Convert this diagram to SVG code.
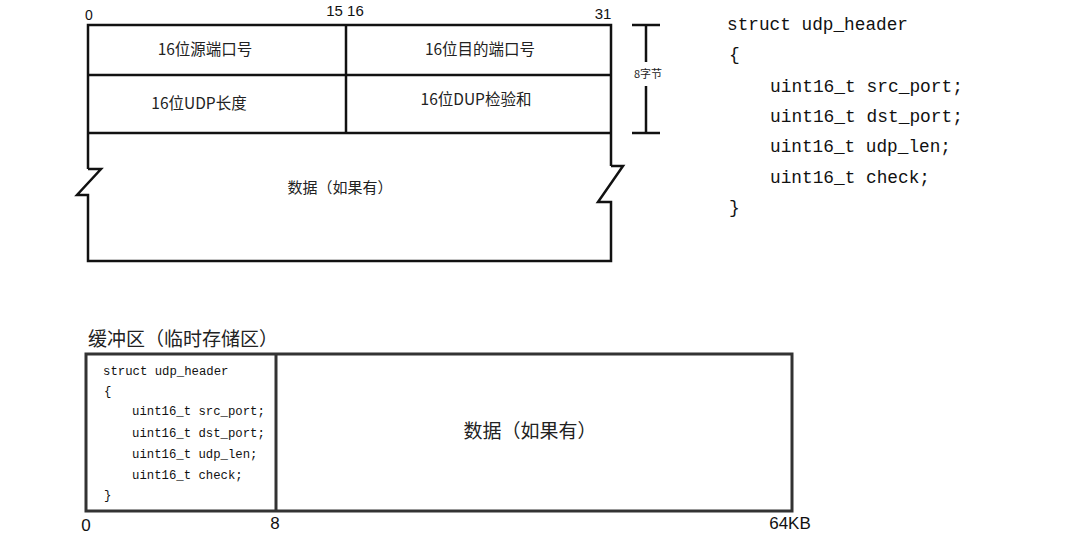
<svg xmlns="http://www.w3.org/2000/svg" width="1087" height="549" viewBox="0 0 1087 549">
<style>
.ln{fill:none;stroke:#111;stroke-width:2.5;stroke-linejoin:miter}
.bx{fill:none;stroke:#333;stroke-width:3}
.cjk{font-family:"Noto Sans CJK SC","Noto Sans",sans-serif;fill:#222}
.num{font-family:"Liberation Sans","Noto Sans",sans-serif;fill:#111}
.code{font-family:"Liberation Mono","DejaVu Sans Mono",monospace;fill:#111}
</style>
<rect width="1087" height="549" fill="#fff"/>
<g id="udp-header-table">
<path class="ln" d="M88,169 L88,25 L611,25 L611,166"/>
<line class="ln" x1="88" y1="75" x2="611" y2="75"/>
<line class="ln" x1="88" y1="133" x2="611" y2="133"/>
<line class="ln" x1="346" y1="25" x2="346" y2="133"/>
<path class="ln" d="M88,169 L101,169 L77,195 L88,195 L88,261 L611,261 L611,202 L598,202 L623,166 L611,166"/>
<text class="num" x="89" y="20" font-size="14" text-anchor="middle">0</text>
<text class="num" x="345" y="16" font-size="15" text-anchor="middle">15 16</text>
<text class="num" x="603" y="19" font-size="15" text-anchor="middle">31</text>
<text class="cjk" x="205" y="55" font-size="15.5" text-anchor="middle">16位源端口号</text>
<text class="cjk" x="480" y="55" font-size="15.5" text-anchor="middle">16位目的端口号</text>
<text class="cjk" x="199" y="109" font-size="15.5" text-anchor="middle">16位UDP长度</text>
<text class="cjk" x="476" y="105" font-size="15.5" text-anchor="middle">16位DUP检验和</text>
<text class="cjk" x="340" y="193" font-size="15" text-anchor="middle">数据（如果有）</text>
</g>
<g id="size-bracket">
<line class="ln" x1="632" y1="25" x2="660" y2="25"/>
<line class="ln" x1="632" y1="133" x2="660" y2="133"/>
<line class="ln" x1="646" y1="25" x2="646" y2="62"/>
<line class="ln" x1="646" y1="86" x2="646" y2="133"/>
<text class="cjk" x="648" y="78" font-size="11" text-anchor="middle">8字节</text>
</g>
<g id="struct-code">
<text class="code" font-size="18">
<tspan x="727" y="30" textLength="181" lengthAdjust="spacingAndGlyphs">struct udp_header</tspan>
<tspan x="729" y="60">{</tspan>
<tspan x="770" y="92" textLength="193" lengthAdjust="spacingAndGlyphs">uint16_t src_port;</tspan>
<tspan x="770" y="122" textLength="193" lengthAdjust="spacingAndGlyphs">uint16_t dst_port;</tspan>
<tspan x="770" y="152" textLength="181" lengthAdjust="spacingAndGlyphs">uint16_t udp_len;</tspan>
<tspan x="770" y="183" textLength="160" lengthAdjust="spacingAndGlyphs">uint16_t check;</tspan>
<tspan x="729" y="213">}</tspan>
</text>
</g>
<g id="buffer">
<text class="cjk" x="88" y="346" font-size="19">缓冲区（临时存储区）</text>
<rect class="bx" x="86" y="354" width="706" height="157"/>
<line class="bx" x1="276" y1="354" x2="276" y2="511"/>
<text class="code" font-size="12.3">
<tspan x="103" y="375">struct udp_header</tspan>
<tspan x="104" y="395">{</tspan>
<tspan x="132" y="415">uint16_t src_port;</tspan>
<tspan x="132" y="437">uint16_t dst_port;</tspan>
<tspan x="132" y="458">uint16_t udp_len;</tspan>
<tspan x="132" y="479">uint16_t check;</tspan>
<tspan x="104" y="499">}</tspan>
</text>
<text class="cjk" x="530" y="438" font-size="19" text-anchor="middle">数据（如果有）</text>
<text class="num" x="86" y="531" font-size="17" text-anchor="middle">0</text>
<text class="num" x="275" y="529" font-size="17" text-anchor="middle">8</text>
<text class="num" x="790" y="529" font-size="17" text-anchor="middle">64KB</text>
</g>
</svg>
